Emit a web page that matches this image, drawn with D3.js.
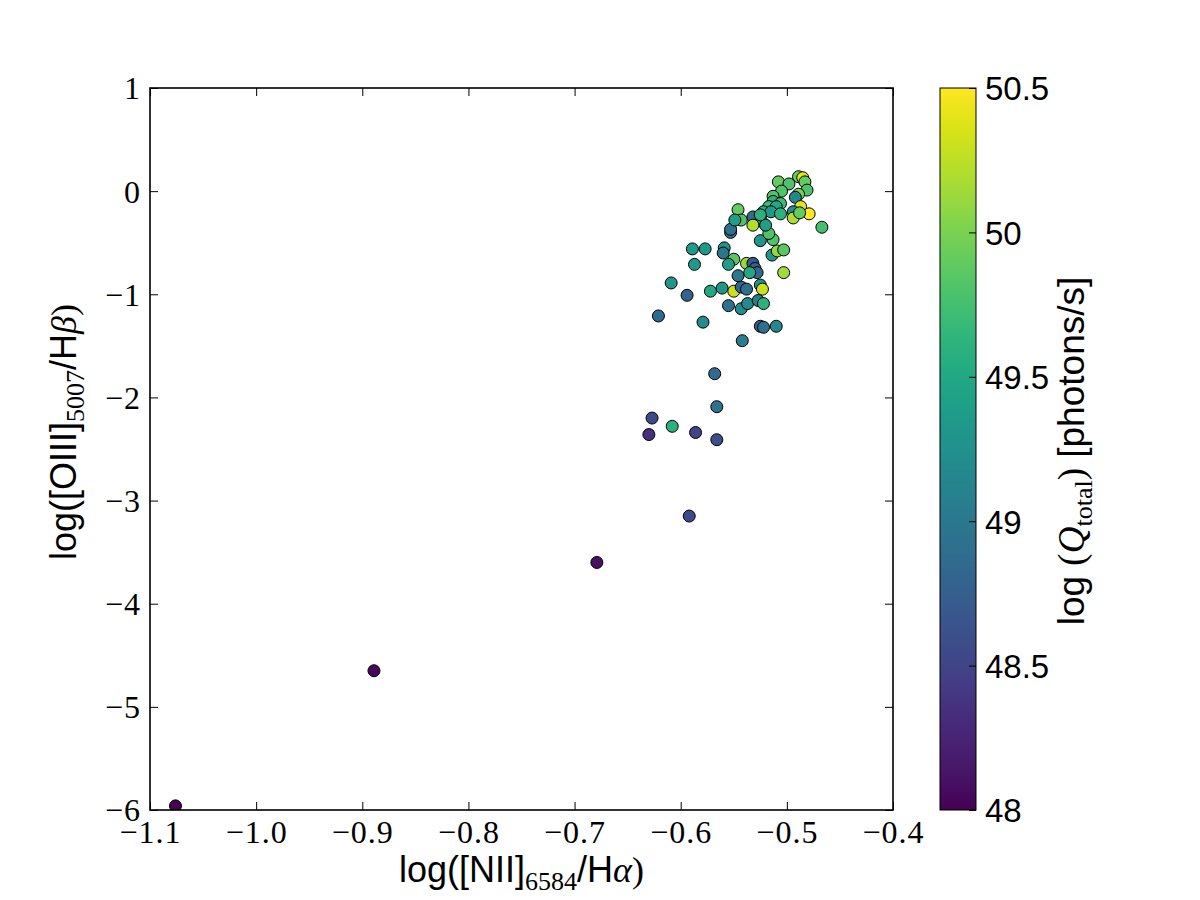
<!DOCTYPE html>
<html>
<head>
<meta charset="utf-8">
<script src="https://cdn.jsdelivr.net/npm/d3@7"></script>
<style>
  body { margin: 0; background: #fff; }
  svg { display: block; }
</style>
</head>
<body>
<svg id="chart" width="1200" height="900"></svg>
<script>
// ---- data: log([NII]/Ha), log([OIII]/Hb), log(Q_total) ----
const nii = [
  -1.076, -0.889, -0.679, -0.592, -0.630, -0.627, -0.608, -0.586, -0.566, -0.566, -0.568,
  -0.621, -0.609, -0.594, -0.579, -0.572, -0.561, -0.550, -0.543, -0.538, -0.546,
  -0.555, -0.543, -0.537, -0.542, -0.525, -0.523, -0.527, -0.522, -0.525, -0.522,
  -0.510, -0.589, -0.577, -0.559, -0.560, -0.550, -0.555, -0.587, -0.538, -0.532,
  -0.530, -0.528, -0.535, -0.514, -0.509, -0.503, -0.503, -0.525, -0.513, -0.517,
  -0.553, -0.553, -0.467,
  -0.489, -0.485, -0.483, -0.508, -0.498, -0.481, -0.505, -0.489, -0.492, -0.513,
  -0.513, -0.506, -0.517, -0.510, -0.487, -0.479, -0.494, -0.494, -0.488, -0.522,
  -0.515, -0.506, -0.532, -0.524, -0.546, -0.543, -0.549, -0.532, -0.520, -0.525
];
const oiii = [
  -5.96, -4.65, -3.60, -3.15, -2.36, -2.20, -2.28, -2.34, -2.41, -2.09, -1.77,
  -1.21, -0.89, -1.01, -1.27, -0.97, -0.94, -0.97, -0.93, -0.95, -0.82,
  -1.11, -1.14, -1.09, -1.45, -0.91, -0.95, -1.06, -1.09, -1.31, -1.32,
  -1.31, -0.56, -0.56, -0.55, -0.60, -0.66, -0.71, -0.71, -0.70, -0.70,
  -0.75, -0.79, -0.79, -0.62, -0.58, -0.57, -0.79, -0.48, -0.47, -0.41,
  -0.40, -0.37, -0.35,
  0.14, 0.13, 0.09, 0.09, 0.07, 0.01, 0.00, -0.03, -0.06, -0.05,
  -0.10, -0.12, -0.15, -0.15, -0.15, -0.22, -0.20, -0.26, -0.21, -0.20,
  -0.20, -0.22, -0.25, -0.29, -0.18, -0.28, -0.28, -0.33, -0.33, -0.23
];
const qTotal = [
  48.00, 48.05, 48.10, 48.55, 48.35, 48.55, 49.60, 48.50, 48.60, 48.95, 48.85,
  48.85, 49.30, 48.80, 49.20, 49.50, 49.30, 50.30, 48.80, 48.90, 49.00,
  48.95, 49.20, 49.20, 49.05, 49.25, 50.30, 49.05, 49.60, 48.80, 48.90,
  49.15, 49.35, 49.35, 49.30, 48.95, 49.85, 49.40, 49.35, 50.10, 48.70,
  48.80, 48.85, 49.50, 49.30, 50.10, 49.85, 50.15, 49.30, 49.80, 49.80,
  48.95, 48.90, 49.75,
  49.90, 50.40, 49.90, 49.90, 49.80, 49.80, 49.80, 50.00, 49.15, 49.80,
  49.60, 49.70, 49.70, 49.50, 50.40, 50.50, 49.20, 50.20, 49.90, 49.60,
  49.35, 49.60, 48.85, 49.50, 49.90, 49.80, 49.40, 50.20, 49.40, 49.60
];
const xTicks = [-1.1, -1.0, -0.9, -0.8, -0.7, -0.6, -0.5, -0.4];
const xTickLabels = ["\u22121.1", "\u22121.0", "\u22120.9", "\u22120.8", "\u22120.7", "\u22120.6", "\u22120.5", "\u22120.4"];
const yTicks = [1, 0, -1, -2, -3, -4, -5, -6];
const yTickLabels = ["1", "0", "\u22121", "\u22122", "\u22123", "\u22124", "\u22125", "\u22126"];
const cTicks = [48, 48.5, 49, 49.5, 50, 50.5];
const cTickLabels = ["48", "48.5", "49", "49.5", "50", "50.5"];

// ---- layout ----
const svg = d3.select("#chart");
const L = 150, R = 893, T = 88, B = 810;
const cbL = 940, cbR = 976;
const serif = "'Liberation Serif', 'Times New Roman', serif";
const sans = "'Liberation Sans', Arial, sans-serif";

const x = d3.scaleLinear().domain([-1.1, -0.4]).range([L, R]);
const y = d3.scaleLinear().domain([-6, 1]).range([B, T]);
const c = d3.scaleSequential(d3.interpolateViridis).domain([48, 50.5]);
const cy = d3.scaleLinear().domain([48, 50.5]).range([B, T]);

// points (clipped to plot area like matplotlib)
svg.append("clipPath").attr("id", "clip")
  .append("rect").attr("x", L).attr("y", T).attr("width", R - L).attr("height", B - T);

const pts = nii.map((v, i) => ({ x: v, y: oiii[i], q: qTotal[i] }));
svg.append("g").attr("clip-path", "url(#clip)")
  .selectAll("circle").data(pts).join("circle")
  .attr("cx", d => x(d.x)).attr("cy", d => y(d.y)).attr("r", 6)
  .attr("fill", d => c(d.q)).attr("stroke", "#000").attr("stroke-width", 1);

// axes (ticks inward on all four sides)
const tl = 8;
const axB = svg.append("g").attr("transform", `translate(0,${B})`)
  .call(d3.axisBottom(x).tickValues(xTicks).tickSize(-tl).tickFormat((d, i) => xTickLabels[i]));
const axT = svg.append("g").attr("transform", `translate(0,${T})`)
  .call(d3.axisTop(x).tickValues(xTicks).tickSize(-tl).tickFormat(""));
const axL = svg.append("g").attr("transform", `translate(${L},0)`)
  .call(d3.axisLeft(y).tickValues(yTicks).tickSize(-tl).tickFormat((d, i) => yTickLabels[i]));
const axR = svg.append("g").attr("transform", `translate(${R},0)`)
  .call(d3.axisRight(y).tickValues(yTicks).tickSize(-tl).tickFormat(""));
[axB, axT, axL, axR].forEach(a => {
  a.select(".domain").remove();
  a.selectAll(".tick line").attr("stroke", "#000").attr("stroke-width", 1);
  a.selectAll(".tick text").attr("font-family", serif).attr("font-size", 32)
    .attr("letter-spacing", 1).attr("fill", "#000");
});
axB.selectAll(".tick text").attr("y", 10).attr("dy", "0.72em");
axL.selectAll(".tick text").attr("x", -9).attr("dy", "0.34em");

svg.append("rect").attr("x", L).attr("y", T).attr("width", R - L).attr("height", B - T)
  .attr("fill", "none").attr("stroke", "#000").attr("stroke-width", 1.6);

// x label
const xl = svg.append("text").attr("x", (L + R) / 2).attr("y", 882)
  .attr("text-anchor", "middle").attr("font-size", 36).attr("font-family", sans).attr("fill", "#000");
xl.append("tspan").text("log([NII]");
xl.append("tspan").attr("font-family", serif).attr("font-size", 26).attr("dy", 8).text("6584");
xl.append("tspan").attr("dy", -8).text("/H");
xl.append("tspan").attr("font-family", serif).attr("font-style", "italic").text("\u03B1");
xl.append("tspan").attr("font-family", serif).text(")");

// y label
const yl = svg.append("text").attr("transform", `translate(76,432) rotate(-90)`)
  .attr("text-anchor", "middle").attr("font-size", 36).attr("font-family", sans).attr("fill", "#000");
yl.append("tspan").text("log([OIII]");
yl.append("tspan").attr("font-family", serif).attr("font-size", 26).attr("dy", 8).text("5007");
yl.append("tspan").attr("dy", -8).text("/H");
yl.append("tspan").attr("font-family", serif).attr("font-style", "italic").text("\u03B2");
yl.append("tspan").attr("font-family", serif).text(")");

// colorbar
const defs = svg.append("defs");
const grad = defs.append("linearGradient").attr("id", "cbgrad")
  .attr("x1", 0).attr("y1", 1).attr("x2", 0).attr("y2", 0);
d3.range(0, 1.0001, 0.02).forEach(t => {
  grad.append("stop").attr("offset", t).attr("stop-color", d3.interpolateViridis(t));
});
svg.append("rect").attr("x", cbL).attr("y", T).attr("width", cbR - cbL).attr("height", B - T)
  .attr("fill", "url(#cbgrad)").attr("stroke", "#000").attr("stroke-width", 1);

const cAx = svg.append("g").attr("transform", `translate(${cbR},0)`)
  .call(d3.axisRight(cy).tickValues(cTicks).tickSize(-7)
    .tickFormat((d, i) => cTickLabels[i]));
cAx.select(".domain").remove();
cAx.selectAll(".tick line").attr("stroke", "#000").attr("stroke-width", 1);
cAx.selectAll(".tick text").attr("x", 9).attr("dy", "0.36em").attr("font-family", sans)
  .attr("font-size", 33).attr("fill", "#000");

const cl = svg.append("text").attr("transform", `translate(1084,451) rotate(-90)`)
  .attr("text-anchor", "middle").attr("font-size", 37).attr("font-family", sans).attr("fill", "#000");
cl.append("tspan").text("log ");
cl.append("tspan").attr("font-family", serif).text("(");
cl.append("tspan").attr("font-family", serif).attr("font-style", "italic").text("Q");
cl.append("tspan").attr("font-family", serif).attr("font-size", 26).attr("dy", 8).text("total");
cl.append("tspan").attr("font-family", serif).attr("dy", -8).text(")");
cl.append("tspan").text(" [photons/s]");
</script>
</body>
</html>
